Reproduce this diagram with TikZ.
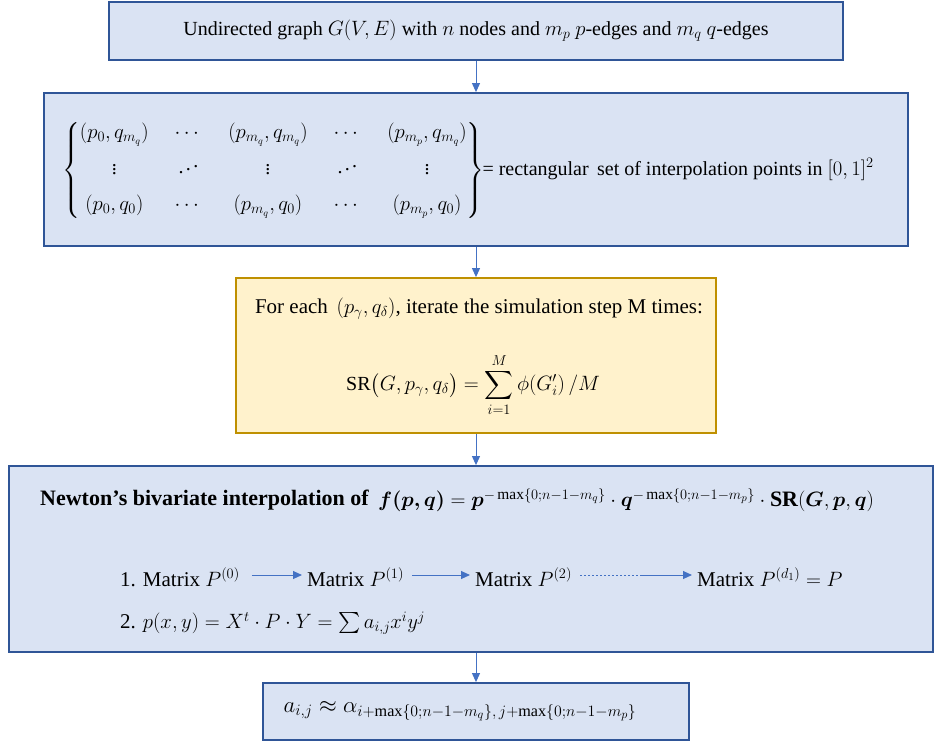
\documentclass[tikz,border=0pt]{standalone}
\usepackage{amsmath,amssymb,bm,graphicx}
\usepackage{fontspec}
\setmainfont{Liberation Serif}
\usetikzlibrary{arrows.meta}
\definecolor{fillblue}{HTML}{DAE3F3}
\definecolor{lineblue}{HTML}{2F5597}
\definecolor{arrblue}{HTML}{4472C4}
\definecolor{fillyel}{HTML}{FFF2CC}
\definecolor{lineyel}{HTML}{BF9000}
\newcommand{\myiddots}{\reflectbox{$\ddots$}}
\tikzset{
  bluebox/.style={draw=lineblue, line width=1.8pt, fill=fillblue, rectangle, inner sep=0pt},
  yelbox/.style={draw=lineyel, line width=1.8pt, fill=fillyel, rectangle, inner sep=0pt},
  flowarr/.style={draw=arrblue, line width=1pt, -{Triangle[length=9pt,width=8pt]}},
  txt/.style={inner sep=0pt, font=\fontsize{20}{24}\selectfont},
  bigtxt/.style={inner sep=0pt, font=\fontsize{21}{25}\selectfont},
}
\begin{document}
\begin{tikzpicture}[x=1pt,y=-1pt]
\useasboundingbox (0,0) rectangle (935,742);
% boxes
\node[bluebox, minimum width=734pt, minimum height=58pt] (b1) at (476,31) {};
\node[bluebox, minimum width=864pt, minimum height=153pt] (b2) at (476,169.5) {};
\node[yelbox, minimum width=480pt, minimum height=155pt] (b3) at (476,355.5) {};
\node[bluebox, minimum width=924pt, minimum height=186pt] (b4) at (471,559) {};
\node[bluebox, minimum width=426pt, minimum height=57pt] (b5) at (476,711.5) {};
% arrows
\draw[flowarr] (b1.south) -- (b2.north);
\draw[flowarr] (b2.south) -- (b3.north);
\draw[flowarr] (b3.south) -- (b3.south |- b4.north);
\draw[flowarr] (b3.south |- b4.south) -- (b5.north);
% texts
\node[txt] (t1) at (476,31) {Undirected graph $G(V,E)$ with $n$ nodes and $m_p$ $p$-edges and $m_q$ $q$-edges};
\node[txt, anchor=west] (t2) at (62,170) {$\setlength{\arraycolsep}{13pt}\left\{\begin{matrix}
(p_0,q_{m_q}) & \cdots & (p_{m_q},q_{m_q}) & \cdots & (p_{m_p},q_{m_q})\\[12pt]
\vdots & \myiddots & \vdots & \myiddots & \vdots\\[12pt]
(p_0,q_0) & \cdots & (p_{m_q},q_0) & \cdots & (p_{m_p},q_0)
\end{matrix}\right\}$\hspace{-2pt}= rectangular\, set of interpolation points in $[0,1]^2$};
\node[bigtxt] (t3) at (479,309) {For each\, $(p_\gamma, q_\delta)$, iterate the simulation step M times:};
\node[txt] (t4) at (473,385) {$\displaystyle \mathrm{SR}\bigl(G,p_\gamma,q_\delta\bigr) = \sum_{i=1}^{M}\phi(G_i')\,/M$};
\node[inner sep=0pt, anchor=west, font=\fontsize{22}{26}\selectfont] (t5a) at (40,500) {\textbf{Newton's bivariate interpolation of}};
\node[inner sep=0pt, anchor=west, font=\fontsize{22}{26}\selectfont] (t5) at (378,500) {$\bm{f(p,q)} = \bm{p}^{-\max\{0;n-1-m_q\}}\cdot \bm{q}^{-\max\{0;n-1-m_p\}}\cdot \textbf{SR}(\bm{G},\bm{p},\bm{q})$};
\node[bigtxt, anchor=west] (m0) at (120,577) {1. Matrix $P^{(0)}$};
\node[bigtxt, anchor=west] (m1) at (307,577) {Matrix $P^{(1)}$};
\node[bigtxt, anchor=west] (m2) at (475,577) {Matrix $P^{(2)}$};
\node[bigtxt, anchor=west] (md) at (697,577) {Matrix $P^{(d_1)} = P$};
\coordinate (dm) at (640,575);
\draw[flowarr] ([xshift=12pt]m0.east |- dm) -- ([xshift=-5pt]m1.west |- dm);
\draw[flowarr] ([xshift=8pt]m1.east |- dm) -- ([xshift=-5pt]m2.west |- dm);
\draw[draw=arrblue, line width=1pt, dashed, dash pattern=on 2pt off 2pt] ([xshift=8pt]m2.east |- dm) -- (dm);
\draw[flowarr] (dm) -- ([xshift=-5pt]md.west |- dm);
\node[bigtxt, anchor=west] (i2) at (120,623) {2. $p(x,y) = X^t\cdot P\cdot Y = \sum a_{i,j}x^iy^j$};
\node[inner sep=0pt, font=\fontsize{21}{25}\selectfont] (t6) at (460,711) {\scalebox{1.1}{$a_{i,j} \approx \alpha_{i+\max\{0;n-1-m_q\},\,j+\max\{0;n-1-m_p\}}$}};
\end{tikzpicture}
\end{document}
